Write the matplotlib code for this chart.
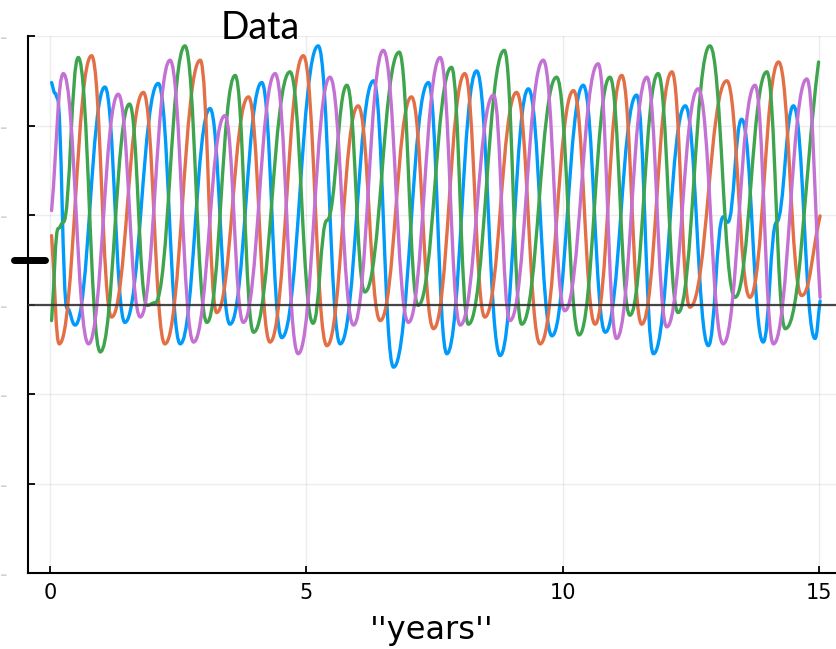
import matplotlib
matplotlib.use("Agg")
import matplotlib.pyplot as plt
from matplotlib.lines import Line2D
from matplotlib.path import Path
from matplotlib.patches import PathPatch

# ── valeurs (extrema + quelques épaulements) ──
blue_x = [0.03, 0.10, 0.14, 0.33, 0.49, 1.07, 1.46, 2.11, 2.54, 3.12, 3.51, 4.13, 4.52,
          5.23, 5.66, 6.31, 6.70, 7.38, 7.74, 8.32, 8.78, 9.33, 9.79, 10.40, 10.83,
          11.44, 11.77, 12.39, 12.84, 13.13, 13.22, 13.49, 13.91, 14.17, 14.50, 14.92, 15.02]
blue_y = [2.48, 2.36, 2.31, -0.04, -0.23, 2.43, -0.20, 2.47, -0.44, 2.19, -0.22, 2.48, -0.37,
          2.89, -0.44, 2.50, -0.70, 2.48, -0.55, 2.61, -0.57, 2.41, -0.35, 2.45, -0.31,
          2.34, -0.55, 2.22, -0.46, 0.98, 0.92, 2.07, -0.42, 0.92, 2.22, -0.38, 0.04]

orange_x = [0.03, 0.18, 0.81, 1.20, 1.82, 2.24, 2.93, 3.25, 3.87, 4.29, 4.94, 5.40, 6.01,
            6.44, 7.05, 7.48, 8.09, 8.48, 9.10, 9.56, 10.21, 10.63, 11.15, 11.54, 12.13,
            12.48, 13.20, 13.65, 14.21, 14.66, 15.02]
orange_y = [0.77, -0.44, 2.78, -0.14, 2.37, -0.44, 2.73, -0.09, 2.32, -0.42, 2.78, -0.46, 2.22,
            -0.18, 2.32, -0.27, 2.58, -0.14, 2.37, -0.44, 2.39, -0.22, 2.56, -0.22, 2.60,
            -0.03, 2.50, 0.08, 2.71, 0.10, 0.99]

green_x = [0.03, 0.16, 0.26, 0.55, 0.98, 1.55, 1.89, 2.05, 2.63, 3.06, 3.61, 3.97, 4.68,
           5.13, 5.40, 5.79, 6.14, 6.81, 7.18, 7.83, 8.16, 8.86, 9.20, 9.88, 10.32, 10.92,
           11.31, 11.86, 12.25, 12.87, 13.36, 13.98, 14.34, 14.99]
green_y = [-0.18, 0.85, 0.92, 2.76, -0.53, 2.24, -0.01, 0.02, 2.89, -0.20, 2.56, -0.31, 2.60,
           -0.21, 0.94, 2.45, 0.14, 2.82, -0.01, 2.65, -0.22, 2.84, -0.22, 2.54, -0.34, 2.54,
           -0.12, 2.58, -0.09, 2.89, 0.08, 2.60, -0.27, 2.71]

purple_x = [0.03, 0.26, 0.75, 1.33, 1.76, 2.34, 2.80, 3.41, 3.77, 4.39, 4.84, 5.46, 5.92,
            6.50, 6.99, 7.61, 8.00, 8.65, 8.97, 9.62, 10.04, 10.69, 11.05, 11.64, 12.03,
            12.64, 13.13, 13.75, 14.11, 14.76, 15.02]
purple_y = [1.05, 2.58, -0.44, 2.35, -0.14, 2.73, -0.42, 2.11, -0.20, 2.58, -0.55, 2.54, -0.23,
            2.84, -0.20, 2.76, -0.23, 2.34, -0.18, 2.73, -0.07, 2.69, -0.38, 2.54, -0.25,
            2.41, -0.44, 2.45, -0.44, 2.52, 0.08]

x_ticks = [0, 5, 10, 15]
y_ticks = [-3, -2, -1, 0, 1, 2, 3]

colors = ["#009AFA", "#E36F47", "#3EA44E", "#C371D2"]


def smooth_path(xs, ys, k=0.45):
    # courbes de Bézier à tangente horizontale aux points lus (extrema)
    verts = [(xs[0], ys[0])]
    codes = [Path.MOVETO]
    for i in range(1, len(xs)):
        x0, y0, x1, y1 = xs[i - 1], ys[i - 1], xs[i], ys[i]
        dx = x1 - x0
        c0 = (x0 + k * dx, y0) if i > 1 else (x0 + k * dx, y0 + k * (y1 - y0))
        c1 = (x1 - k * dx, y1) if i < len(xs) - 1 else (x1 - k * dx, y1 - k * (y1 - y0))
        verts += [c0, c1, (x1, y1)]
        codes += [Path.CURVE4] * 3
    return Path(verts, codes)


fig = plt.figure(figsize=(8.36, 6.49), dpi=100)
ax = fig.add_axes([0.0335, 0.1171, 0.9665, 0.8274])

series = [(blue_x, blue_y), (orange_x, orange_y), (green_x, green_y), (purple_x, purple_y)]
for (xs, ys), c in zip(series, colors):
    ax.add_patch(PathPatch(smooth_path(xs, ys), fill=False, edgecolor=c, lw=2.4,
                           joinstyle="round", capstyle="round", zorder=3))

ax.axhline(0, color="#333333", lw=1.6, alpha=0.9, zorder=4)

ax.set_xlim(-0.43, 15.33)
ax.set_ylim(-3, 3)
ax.set_xticks(x_ticks)
ax.set_yticks(y_ticks)
ax.set_yticklabels(["-"] * len(y_ticks), color="#d0d0d0")
ax.grid(True, color="black", alpha=0.07, lw=1)
for s in ["top", "right"]:
    ax.spines[s].set_visible(False)
for s in ["left", "bottom"]:
    ax.spines[s].set_linewidth(1.5)
ax.tick_params(direction="in", length=5, width=1.3, labelsize=15, pad=7)
ax.tick_params(axis="y", pad=15)
ax.set_xlabel("''years''", fontsize=23, labelpad=9)

fig.text(0.311, 0.957, "Data", ha="center", va="center", fontsize=27, family="Lato")

# petit trait noir à gauche
fig.add_artist(Line2D([14 / 836, 45 / 836], [1 - 260 / 649] * 2, color="black", lw=5,
                      solid_capstyle="round"))

plt.savefig("out.png", dpi=100)
